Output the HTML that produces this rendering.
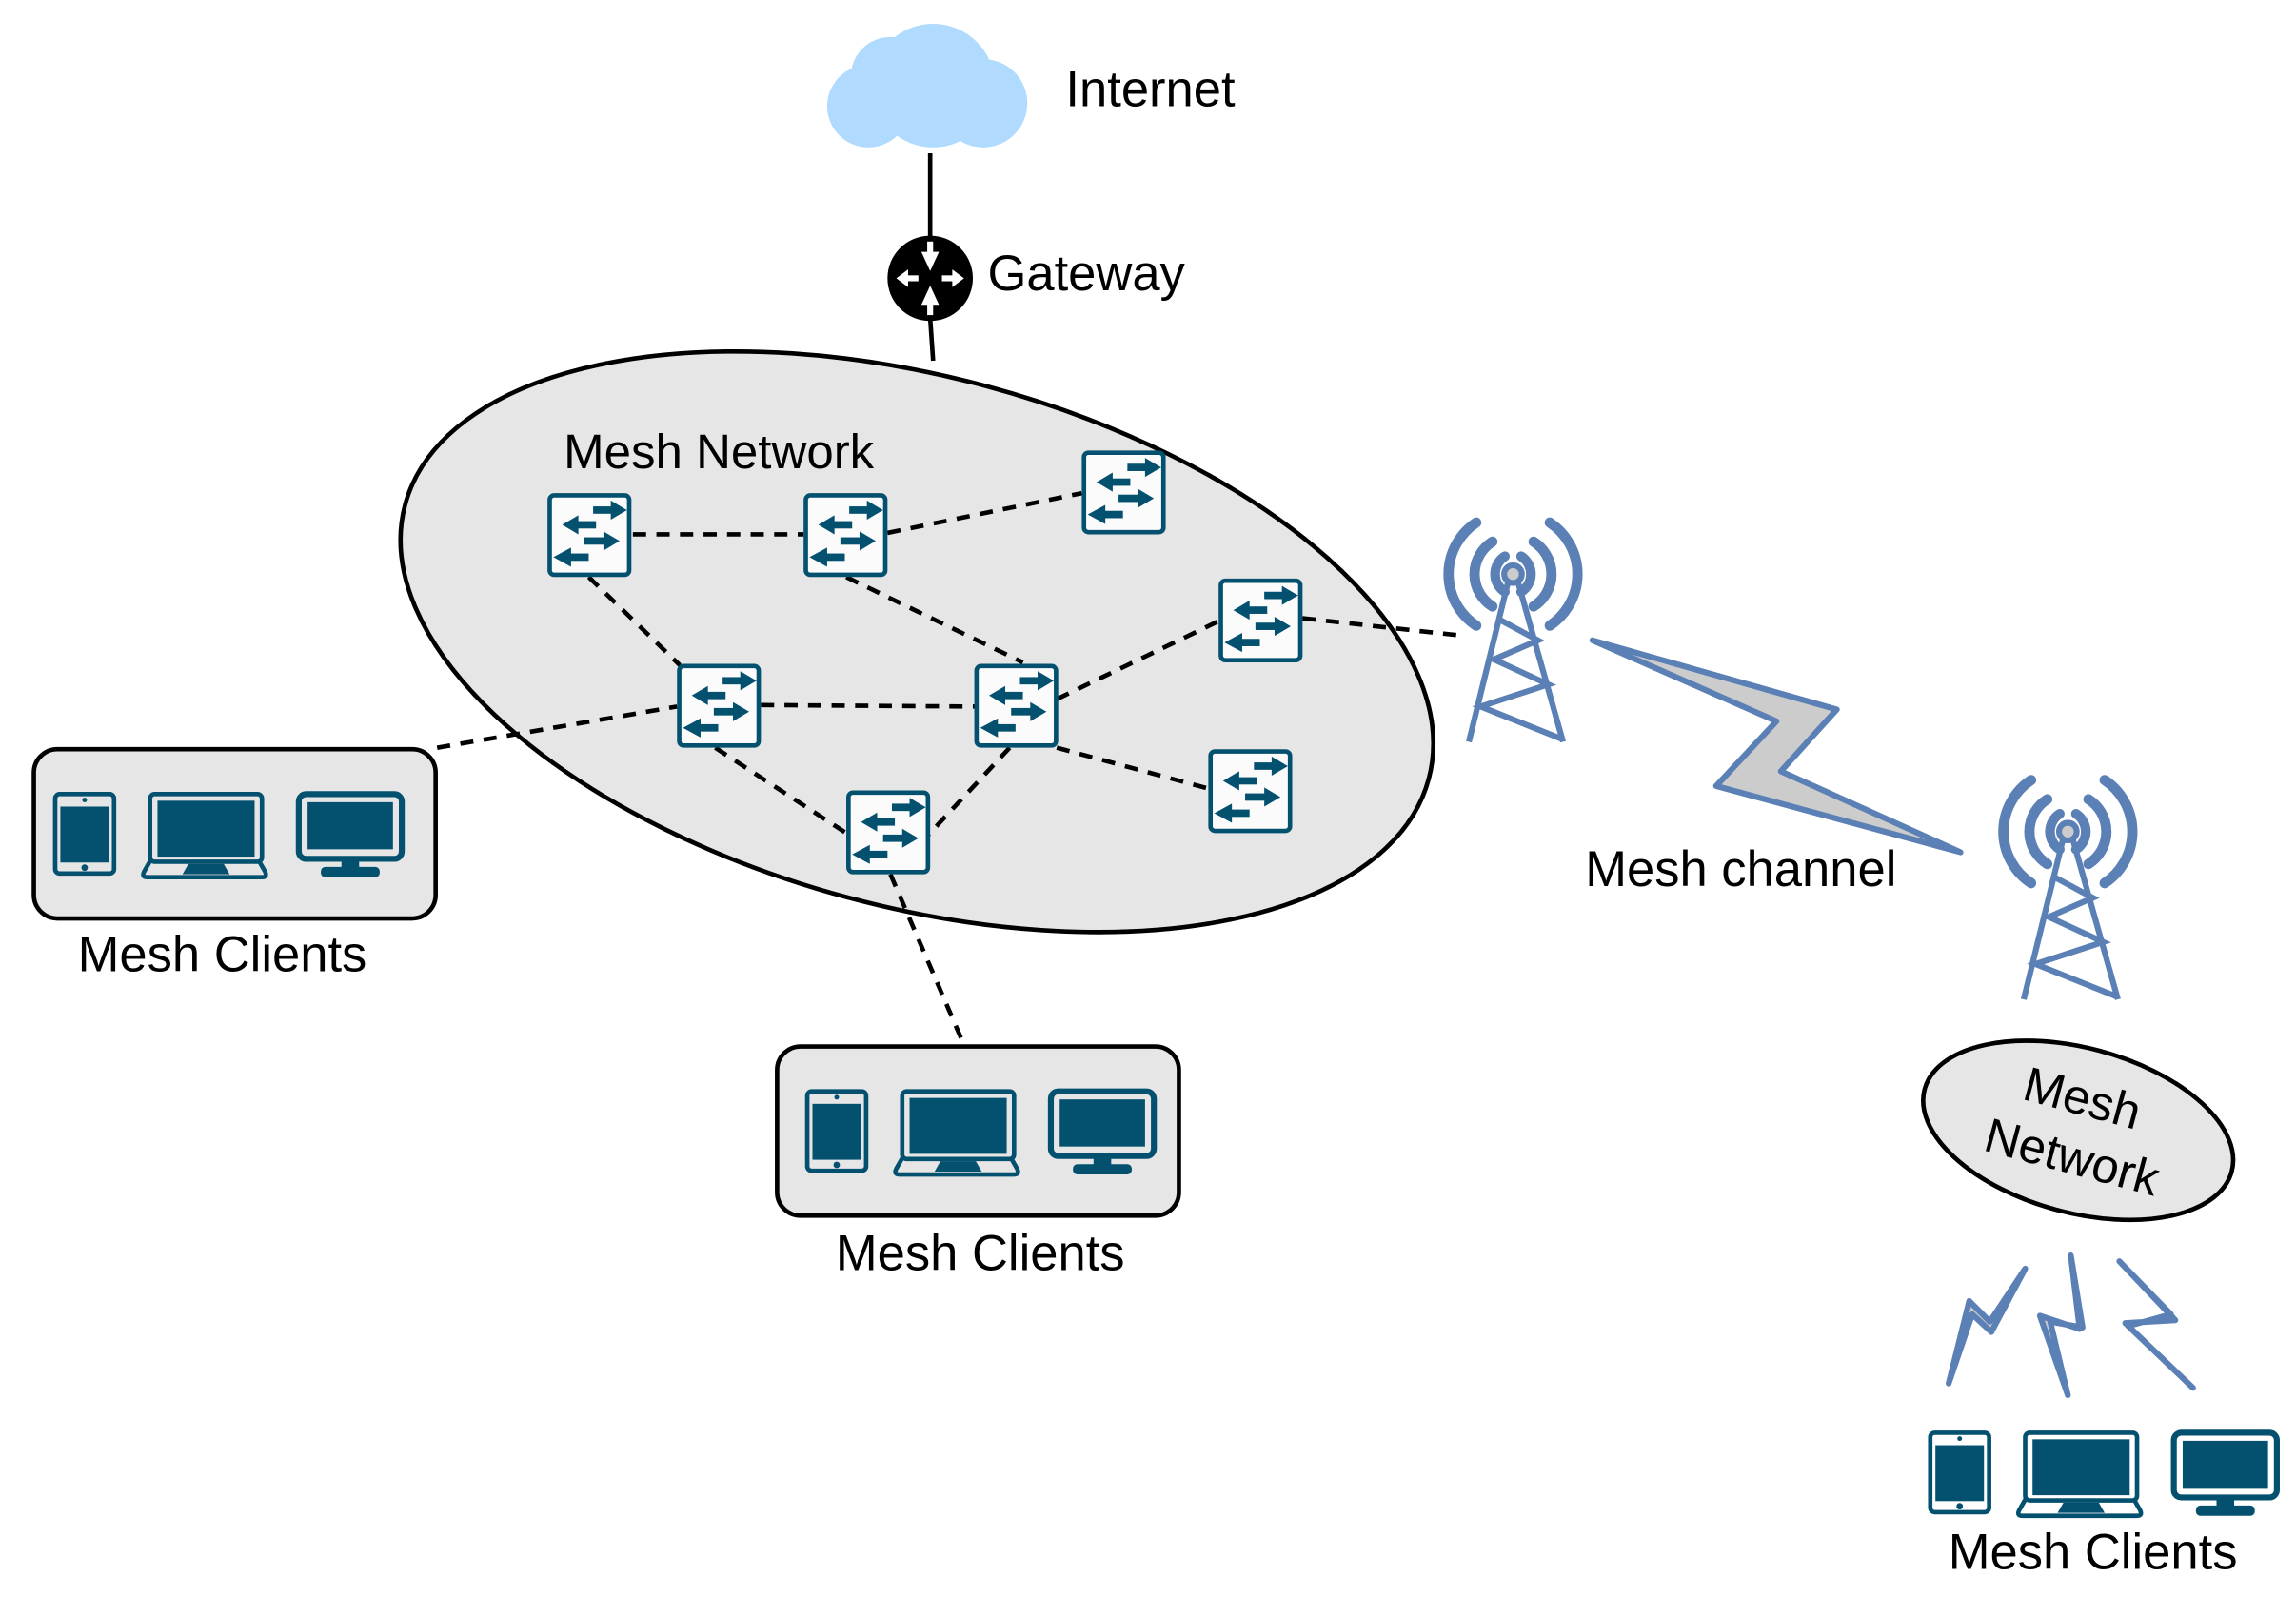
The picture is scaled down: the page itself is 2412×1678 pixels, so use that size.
<!DOCTYPE html>
<html><head><meta charset="utf-8"><style>
html,body{margin:0;padding:0;background:#fff;}
svg{display:block;}
text{font-family:"Liberation Sans",Arial,sans-serif;fill:#000;}
</style></head><body>
<svg width="2412" height="1678" viewBox="0 0 1560 1085" xmlns="http://www.w3.org/2000/svg">
<defs>
<g id="sw">
<rect x="1.5" y="1.5" width="54" height="54" rx="3" fill="#fbfbfb" stroke="#03506f" stroke-width="3"/>
<g fill="#03506f">
<rect x="31" y="9" width="13" height="5"/><polygon points="43,5 54,11.5 43,18"/>
<rect x="20" y="19" width="13" height="5"/><polygon points="21,15 10,21.5 21,28"/>
<rect x="25" y="30" width="14" height="5"/><polygon points="38,26 49,32.5 38,39"/>
<rect x="15" y="41" width="13" height="5"/><polygon points="16,37 4,43.5 16,50"/>
</g>
</g>
<g id="dev" fill="#03506f">
<rect x="1.5" y="1.5" width="40" height="54" rx="3" fill="none" stroke="#03506f" stroke-width="3"/>
<rect x="5" y="10" width="33" height="38"/>
<circle cx="21.5" cy="5.5" r="1.6"/><circle cx="21.5" cy="51.5" r="2.2"/>
<rect x="66" y="1.5" width="76" height="46" rx="3" fill="none" stroke="#03506f" stroke-width="3"/>
<rect x="71" y="6" width="66" height="38"/>
<path d="M66,47 L62,54 Q60,58 64,58 L142,58 Q146,58 144,54 L140,47" fill="none" stroke="#03506f" stroke-width="3"/>
<polygon points="92,49 116,49 120,56 88,56"/>
<rect x="167" y="1.5" width="70" height="44" rx="5" fill="none" stroke="#03506f" stroke-width="4"/>
<rect x="173" y="7" width="58" height="32"/>
<rect x="196" y="45" width="12" height="8"/>
<rect x="182" y="51" width="40" height="7" rx="3"/>
</g>
<g id="tower" stroke="#5b80b5" fill="none">
<path d="M-14,-22 A26,26 0 0 0 -14,22" stroke-width="7" stroke-linecap="round"/>
<path d="M14,-22 A26,26 0 0 1 14,22" stroke-width="7" stroke-linecap="round"/>
<path d="M-25,-35 A42,42 0 0 0 -25,35" stroke-width="7" stroke-linecap="round"/>
<path d="M25,-35 A42,42 0 0 1 25,35" stroke-width="7" stroke-linecap="round"/>
<path d="M-5,-11 A13,13 0 0 0 -5,11" stroke-width="6" stroke-linecap="round" transform="scale(1.1)"/>
<path d="M5,-11 A13,13 0 0 1 5,11" stroke-width="6" stroke-linecap="round" transform="scale(1.1)"/>
<path d="M-3,4 L-30,114 M3,4 L34,114" stroke-width="4"/>
<path d="M-9,31 L17,45 L-13,58 L24,75 L-22,90 L33,112" stroke-width="4"/>
<circle cx="0" cy="0" r="6" fill="#cccccc" stroke-width="4"/>
</g>
</defs>

<g fill="#b0dafe">
<circle cx="590" cy="72" r="28"/><circle cx="605" cy="52" r="27"/>
<circle cx="634" cy="58" r="42"/><circle cx="668" cy="70" r="30"/>
<rect x="575" y="60" width="110" height="30"/>
</g>
<text x="724" y="72" font-size="34">Internet</text>

<line x1="632" y1="104" x2="632" y2="162" stroke="#000" stroke-width="3"/>
<line x1="632" y1="216" x2="634" y2="245" stroke="#000" stroke-width="3"/>
<circle cx="632" cy="189" r="29" fill="#000"/>
<g fill="#fff">
<rect x="630" y="164" width="4" height="8"/><polygon points="626,171 638,171 632,184"/>
<rect x="630" y="206" width="4" height="8"/><polygon points="626,207 638,207 632,194"/>
<rect x="616" y="187" width="8" height="4"/><polygon points="617,183 617,195 609,189"/>
<rect x="640" y="187" width="8" height="4"/><polygon points="647,183 647,195 655,189"/>
</g>
<text x="671" y="197" font-size="34">Gateway</text>

<ellipse cx="623" cy="436" rx="360" ry="180" transform="rotate(15 623 436)" fill="#e6e6e6" stroke="#000" stroke-width="3"/>
<text x="383" y="318" font-size="33">Mesh Network</text>

<g stroke="#000" stroke-width="3" stroke-dasharray="9,7" fill="none">
<line x1="430" y1="363" x2="546" y2="363"/>
<line x1="603" y1="362" x2="735" y2="335"/>
<line x1="400" y1="392" x2="462" y2="452"/>
<line x1="575" y1="392" x2="695" y2="450"/>
<line x1="517" y1="479" x2="662" y2="480"/>
<line x1="718" y1="475" x2="830" y2="421"/>
<line x1="718" y1="508" x2="822" y2="536"/>
<line x1="486" y1="508" x2="578" y2="568"/>
<line x1="686" y1="508" x2="630" y2="568"/>
<line x1="885" y1="420" x2="995" y2="432"/>
<line x1="297" y1="508" x2="460" y2="480"/>
<line x1="605" y1="594" x2="655" y2="710"/>
</g>

<use href="#sw" x="372" y="335"/>
<use href="#sw" x="546" y="335"/>
<use href="#sw" x="735" y="306"/>
<use href="#sw" x="828" y="393"/>
<use href="#sw" x="460" y="451"/>
<use href="#sw" x="662" y="451"/>
<use href="#sw" x="821" y="509"/>
<use href="#sw" x="575" y="537"/>

<rect x="23" y="509" width="273" height="115" rx="16" fill="#e6e6e6" stroke="#000" stroke-width="3"/>
<use href="#dev" x="36" y="538"/>
<text x="151" y="660" font-size="34" text-anchor="middle">Mesh Clients</text>
<rect x="528" y="711" width="273" height="115" rx="16" fill="#e6e6e6" stroke="#000" stroke-width="3"/>
<use href="#dev" x="547" y="740"/>
<text x="666" y="863" font-size="34" text-anchor="middle">Mesh Clients</text>

<use href="#tower" x="1028" y="390"/>
<use href="#tower" x="1405" y="565"/>

<polygon points="1082,435 1248,482 1210,524 1332,579 1166,534 1207,490" fill="#cccccc" stroke="#5b80b5" stroke-width="4" stroke-linejoin="round"/>
<text x="1077" y="602" font-size="34">Mesh channel</text>

<ellipse cx="1412" cy="768" rx="108" ry="56" transform="rotate(15 1412 768)" fill="#e6e6e6" stroke="#000" stroke-width="3"/>
<text x="1412" y="757" font-size="33" text-anchor="middle" transform="rotate(15 1412 757)">Mesh</text>
<text x="1405" y="797" font-size="33" text-anchor="middle" transform="rotate(15 1405 797)">Network</text>

<g fill="#cccccc" stroke="#5b80b5" stroke-width="4" stroke-linejoin="round">
<polygon points="1324,940 1338,884 1352,898 1376,862 1353,905 1340,893"/>
<polygon points="1407,853 1413,903 1386,894 1405,948 1393,898 1415,902"/>
<polygon points="1440,857 1478,897 1444,899 1490,943 1446,901 1475,893"/>
</g>

<use href="#dev" x="1310" y="972"/>
<text x="1422" y="1066" font-size="34" text-anchor="middle">Mesh Clients</text>
</svg>
</body></html>
